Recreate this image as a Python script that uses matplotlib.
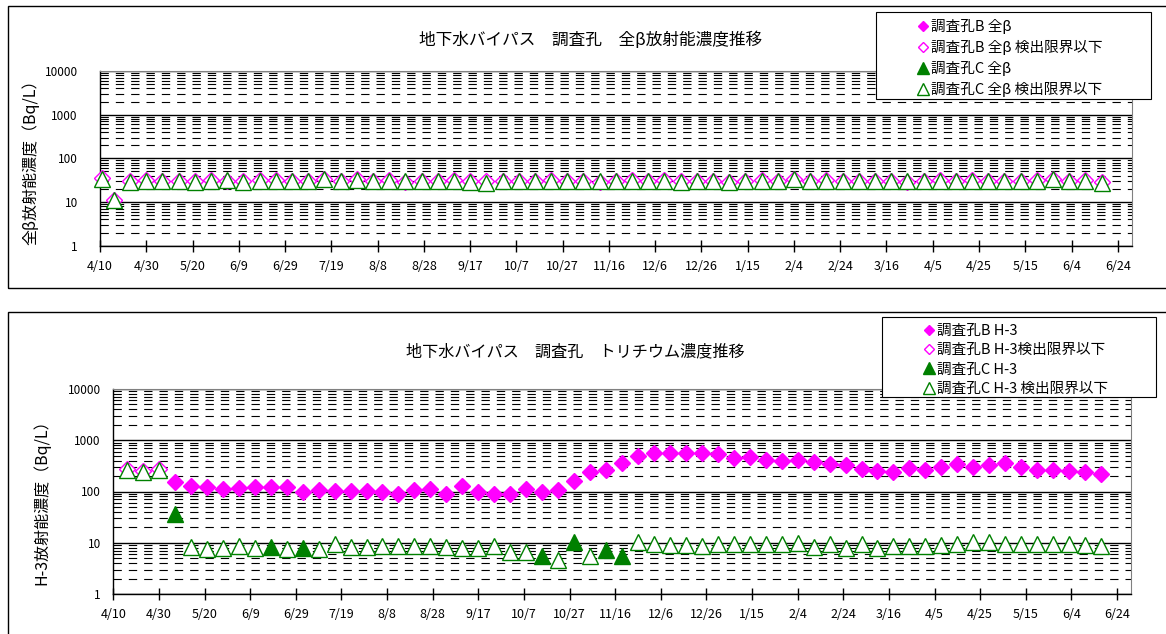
import numpy as np
import matplotlib
matplotlib.use('Agg')
import matplotlib.pyplot as plt
import matplotlib.dates as mdates
from matplotlib.ticker import FixedLocator, FuncFormatter, LogLocator, NullFormatter
from matplotlib.patches import Rectangle
from matplotlib.lines import Line2D

plt.rcParams['font.family'] = ['Noto Sans CJK JP', 'DejaVu Sans']

# sampling dates (weekly). gross beta also has a first sample on 4/11
dates_h3 = ['2013-04-16', '2013-04-23', '2013-04-30', '2013-05-07', '2013-05-14', '2013-05-21', '2013-05-28',
            '2013-06-04', '2013-06-11', '2013-06-18', '2013-06-25', '2013-07-02', '2013-07-09', '2013-07-16',
            '2013-07-23', '2013-07-30', '2013-08-06', '2013-08-13', '2013-08-20', '2013-08-27', '2013-09-03',
            '2013-09-10', '2013-09-17', '2013-09-24', '2013-10-01', '2013-10-08', '2013-10-15', '2013-10-22',
            '2013-10-29', '2013-11-05', '2013-11-12', '2013-11-19', '2013-11-26', '2013-12-03', '2013-12-10',
            '2013-12-17', '2013-12-24', '2013-12-31', '2014-01-07', '2014-01-14', '2014-01-21', '2014-01-28',
            '2014-02-04', '2014-02-11', '2014-02-18', '2014-02-25', '2014-03-04', '2014-03-11', '2014-03-18',
            '2014-03-25', '2014-04-01', '2014-04-08', '2014-04-15', '2014-04-22', '2014-04-29', '2014-05-06',
            '2014-05-13', '2014-05-20', '2014-05-27', '2014-06-03', '2014-06-10', '2014-06-17']
dates_beta = ['2013-04-11'] + dates_h3

x_ticks = ['2013-04-10', '2013-04-30', '2013-05-20', '2013-06-09', '2013-06-29', '2013-07-19', '2013-08-08',
           '2013-08-28', '2013-09-17', '2013-10-07', '2013-10-27', '2013-11-16', '2013-12-06', '2013-12-26',
           '2014-01-15', '2014-02-04', '2014-02-24', '2014-03-16', '2014-04-05', '2014-04-25', '2014-05-15',
           '2014-06-04', '2014-06-24']
x_range = ['2013-04-10', '2014-06-30']

# gross beta (Bq/L) - all below detection limit (values = detection limit)
beta_b = [35, 11, 30, 32, 30, 31, 30, 32, 31, 30, 32,
          32, 30, 31, 34, 30, 33, 31, 32, 29, 31, 30,
          32, 31, 30, 31, 30, 31, 32, 30, 31, 29, 31,
          32, 31, 32, 30, 31, 30, 29, 31, 32, 31, 34,
          31, 32, 30, 31, 30, 31, 29, 31, 32, 31,
          32, 31, 30, 31, 32, 34, 31, 32, 29]
beta_c = [34, 11, 28, 31, 31, 31, 28, 30, 32, 28, 30,
          31, 30, 30, 33, 30, 32, 31, 31, 30, 30, 30,
          31, 29, 27, 30, 31, 30, 31, 30, 30, 30, 31,
          31, 31, 31, 28, 31, 30, 28, 30, 31, 30, 34,
          30, 31, 30, 30, 30, 30, 30, 30, 31, 31,
          31, 30, 30, 30, 31, 34, 30, 31, 27]
beta_b_detected = []
beta_c_detected = []

# tritium H-3 (Bq/L)
h3_b = [270, 250, 270,
        156, 129, 125, 112, 115, 125, 125, 125, 100, 107, 104, 104, 104, 100, 89,
        108, 112, 89, 130, 100, 89, 89, 112, 100, 107, 163, 245, 265, 367, 496, 575, 575, 560, 575, 535,
        460, 480, 414, 398, 410,
        384, 346, 330, 272, 253, 245, 285, 265, 305, 340, 305, 330, 357, 305, 257, 265, 253, 237, 218]
h3_c = [260, 245, 265,
        37,
        8.2, 7.4, 7.9, 8.6, 7.8, 8.3, 7.7, 7.8, 7.5, 9.3, 8.3, 8.3, 8.7, 8.6,
        8.6, 8.6, 8.3, 7.8, 7.8, 8.6, 6.6, 6.6, 5.5, 4.7, 10.3, 5.5, 7.2, 5.6, 10.3, 9.3, 9.0, 9.0, 8.6,
        9.3, 9.5, 9.3, 9.3, 9.5, 10.0,
        8.3, 9.3, 7.8, 9.3, 7.8, 8.8, 8.6, 8.8, 9.0, 9.3, 10.3, 10.3, 9.3, 9.6, 9.6, 9.6, 9.6, 9.0, 8.6]
h3_b_detected = dates_h3[3:]
h3_c_detected = ['2013-05-07', '2013-06-18', '2013-07-02', '2013-10-15', '2013-10-29', '2013-11-12', '2013-11-19']

beta_labels = ['調査孔B 全β', '調査孔B 全β 検出限界以下', '調査孔C 全β', '調査孔C 全β 検出限界以下']
h3_labels = ['調査孔B H-3', '調査孔B H-3検出限界以下', '調査孔C H-3', '調査孔C H-3 検出限界以下']

MAG = '#FF00FF'
GRN = '#008000'
W, H = 1166, 634


def fx(px):
    return px / W


def fy(py):
    return 1 - py / H


def draw_panel(ax, dates, b_vals, b_det, c_vals, c_det, ylabel):
    d = np.array(dates, dtype='datetime64[D]')
    b = np.array(b_vals, dtype=float)
    c = np.array(c_vals, dtype=float)
    bm = np.isin(d, np.array(b_det, dtype='datetime64[D]'))
    cm = np.isin(d, np.array(c_det, dtype='datetime64[D]'))

    ax.plot(d[bm], b[bm], ls='none', marker='D', ms=8.2, mfc=MAG, mec=MAG, clip_on=False, zorder=3)
    ax.plot(d[~bm], b[~bm], ls='none', marker='D', ms=8.2, mfc='white', mec=MAG, mew=1.0, clip_on=False, zorder=3)
    ax.plot(d[cm], c[cm], ls='none', marker='^', ms=12, mfc=GRN, mec=GRN, clip_on=False, zorder=4)
    ax.plot(d[~cm], c[~cm], ls='none', marker='^', ms=12, mfc='white', mec=GRN, mew=1.0, clip_on=False, zorder=4)

    ax.set_yscale('log')
    ax.set_ylim(1, 10000)
    ax.set_xlim(np.array(x_range, dtype='datetime64[D]'))
    ax.yaxis.set_major_locator(FixedLocator([1, 10, 100, 1000, 10000]))
    ax.yaxis.set_major_formatter(FuncFormatter(lambda v, p: '%d' % v))
    ax.yaxis.set_minor_locator(LogLocator(base=10, subs=np.arange(2, 10)))
    ax.yaxis.set_minor_formatter(NullFormatter())
    ax.grid(which='major', axis='y', color='black', lw=1.0, ls='-')
    ax.grid(which='minor', axis='y', color='black', lw=0.8, ls=(0, (7.5, 6.3)))
    ax.tick_params(axis='y', which='both', length=0, labelsize=8.5)

    ticks = np.array(x_ticks, dtype='datetime64[D]')
    ax.xaxis.set_major_locator(FixedLocator(mdates.date2num(ticks)))
    ax.xaxis.set_major_formatter(FuncFormatter(
        lambda v, p: '%d/%d' % (mdates.num2date(v).month, mdates.num2date(v).day)))
    ax.tick_params(axis='x', direction='inout', length=8, width=1, labelsize=9, pad=6)

    for s in ['top', 'right']:
        ax.spines[s].set_color('#808080')
    for s in ['left', 'bottom']:
        ax.spines[s].set_color('black')
        ax.spines[s].set_linewidth(1.0)
    ax.set_ylabel(ylabel, fontsize=11.5)

    handles = [
        Line2D([], [], ls='none', marker='D', ms=5, mfc=MAG, mec=MAG),
        Line2D([], [], ls='none', marker='D', ms=5, mfc='white', mec=MAG),
        Line2D([], [], ls='none', marker='^', ms=8, mfc=GRN, mec=GRN),
        Line2D([], [], ls='none', marker='^', ms=8, mfc='white', mec=GRN),
    ]
    return handles


def legend_box(x0, y0, x1, y1):
    fig.add_artist(Rectangle((fx(x0), fy(y1)), fx(x1) - fx(x0), fy(y0) - fy(y1), transform=fig.transFigure,
                             fc='white', ec='black', lw=0.8, zorder=4))


fig = plt.figure(figsize=(W / 100, H / 100), dpi=100)

# top panel: gross beta
ax1 = fig.add_axes([fx(100), fy(245.7), fx(1131.7) - fx(100), fy(71) - fy(245.7)])
h1 = draw_panel(ax1, dates_beta, beta_b, beta_b_detected, beta_c, beta_c_detected, '全β放射能濃度（Bq/L）')
ax1.yaxis.set_label_coords(-0.059, 0.5)
ax1.tick_params(axis='y', pad=16)
fig.text(fx(591), fy(40), '地下水バイパス　調査孔　全β放射能濃度推移', ha='center', va='center', fontsize=12)
fig.add_artist(Rectangle((fx(8), fy(288)), fx(1172) - fx(8), fy(6) - fy(288), transform=fig.transFigure,
                         fill=False, ec='black', lw=1.0))
legend_box(876, 12.3, 1151, 99.3)
fig.legend(h1, beta_labels, loc='upper left', bbox_to_anchor=(fx(916), fy(19)), bbox_transform=fig.transFigure,
           frameon=False, borderpad=0, borderaxespad=0, handlelength=1.0, handletextpad=0.05,
           labelspacing=0.41, fontsize=10.5)

# bottom panel: tritium
ax2 = fig.add_axes([fx(113.3), fy(594), fx(1130.7) - fx(113.3), fy(389) - fy(594)])
h2 = draw_panel(ax2, dates_h3, h3_b, h3_b_detected, h3_c, h3_c_detected, 'H-3放射能濃度（Bq/L）')
ax2.yaxis.set_label_coords(-0.0614, 0.468)
ax2.tick_params(axis='y', pad=9)
fig.text(fx(575), fy(351.7), '地下水バイパス　調査孔　トリチウム濃度推移', ha='center', va='center', fontsize=11.6)
fig.add_artist(Rectangle((fx(8), fy(650)), fx(1172) - fx(8), fy(311.7) - fy(650), transform=fig.transFigure,
                         fill=False, ec='black', lw=1.0))
legend_box(881.7, 317.3, 1156, 397.3)
fig.legend(h2, h3_labels, loc='upper left', bbox_to_anchor=(fx(921.5), fy(324)), bbox_transform=fig.transFigure,
           frameon=False, borderpad=0, borderaxespad=0, handlelength=1.0, handletextpad=0.05,
           labelspacing=0.36, fontsize=10.5)

fig.savefig('out.png', dpi=100)
